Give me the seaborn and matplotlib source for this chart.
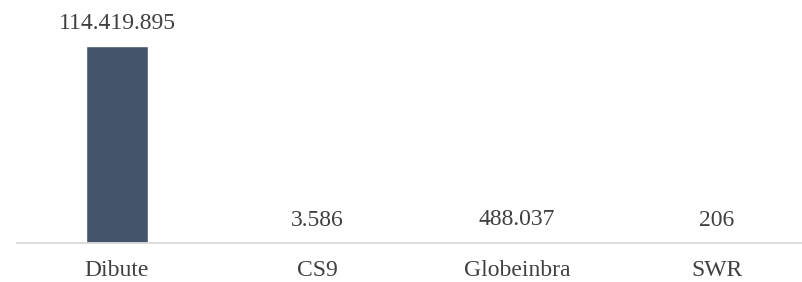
import matplotlib
matplotlib.use("Agg")
import matplotlib.pyplot as plt
import seaborn as sns
import pandas as pd

categories = ["Dibute", "CS9", "Globeinbra", "SWR"]
values = [114419895, 3586, 488037, 206]
value_labels = ["114.419.895", "3.586", "488.037", "206"]

sns.set_theme(style="white")
plt.rcParams["font.family"] = ["Liberation Serif", "DejaVu Serif"]

df = pd.DataFrame({"cat": categories, "val": values})

fig = plt.figure(figsize=(8.03, 2.82), dpi=100)
ax = fig.add_axes([17 / 803, 1 - 243 / 282, (803 - 17) / 803, (243 - 46) / 282])
sns.barplot(data=df, x="cat", y="val", color="#44546A", width=0.31, ax=ax, saturation=1)
ax.set_ylim(0, max(values))
ax.set_xlim(-0.5, 3.5 - 14 / 200)

for i, (v, lab) in enumerate(zip(values, value_labels)):
    ax.annotate(lab, (i, v), xytext=(0, 8.5), textcoords="offset points",
                ha="center", va="bottom", fontsize=17, color="#404040",
                annotation_clip=False)

for s in ["top", "right", "left"]:
    ax.spines[s].set_visible(False)
ax.spines["bottom"].set_color("#D9D9D9")
ax.spines["bottom"].set_linewidth(1.3)
ax.set_yticks([])
ax.set_xlabel("")
ax.set_ylabel("")
ax.tick_params(axis="x", length=0, pad=12.5, labelsize=17, labelcolor="#404040")

fig.savefig("out.png", dpi=100)
